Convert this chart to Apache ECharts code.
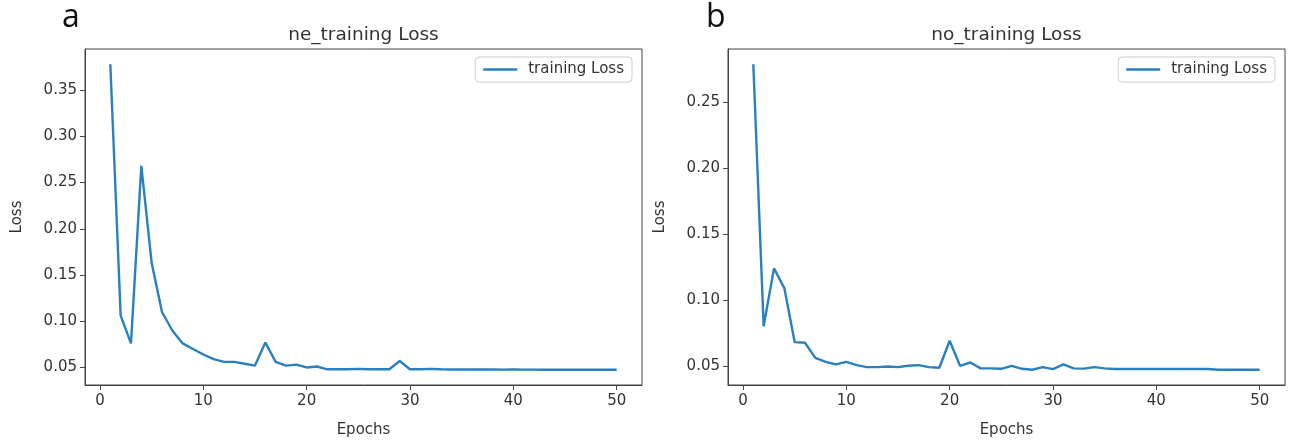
<!DOCTYPE html>
<html>
<head>
<meta charset="utf-8">
<script src="https://cdn.jsdelivr.net/npm/echarts@6/dist/echarts.min.js"></script>
<style>
html,body{margin:0;padding:0;background:#fff;}
#c{width:1291px;height:443px;}
</style>
</head>
<body>
<div id="c"></div>
<script>
const epochs = [1,2,3,4,5,6,7,8,9,10,11,12,13,14,15,16,17,18,19,20,21,22,23,24,25,26,27,28,29,30,31,32,33,34,35,36,37,38,39,40,41,42,43,44,45,46,47,48,49,50];
const neLoss = [0.378,0.106,0.076,0.268,0.163,0.110,0.090,0.076,0.070,0.064,
  0.059,0.056,0.056,0.054,0.052,0.077,0.056,0.052,0.053,0.050,
  0.051,0.048,0.048,0.048,0.0485,0.048,0.048,0.048,0.057,0.048,
  0.048,0.0485,0.048,0.0478,0.0478,0.0477,0.0477,0.0477,0.0476,0.0477,
  0.0476,0.0476,0.0475,0.0475,0.0475,0.0475,0.0475,0.0475,0.0475,0.0475];
const noLoss = [0.279,0.080,0.124,0.109,0.068,0.0675,0.056,0.053,0.051,0.053,
  0.0505,0.049,0.049,0.0495,0.049,0.050,0.0505,0.049,0.0485,0.069,
  0.050,0.0525,0.048,0.048,0.0477,0.050,0.0477,0.047,0.049,0.0475,
  0.051,0.048,0.0478,0.049,0.048,0.0475,0.0475,0.0475,0.0475,0.0475,
  0.0475,0.0475,0.0475,0.0475,0.0475,0.047,0.047,0.047,0.047,0.047];
const xTicks = [0,10,20,30,40,50];
const yTicksA = [0.05,0.10,0.15,0.20,0.25,0.30,0.35];
const yTicksB = [0.05,0.10,0.15,0.20,0.25];
const titleA = 'ne_training Loss';
const titleB = 'no_training Loss';
const seriesName = 'training Loss';

const FONT = 'DejaVu Sans';
const TXT = '#333';
const AX = '#444';
const BLUE = '#2a7fbf';

function xAxis(gi){
  return {
    type:'value', gridIndex:gi, min:-1.45, max:52.45,
    name:'Epochs', nameLocation:'middle', nameGap:38,
    nameTextStyle:{fontFamily:FONT,fontSize:15,color:TXT},
    axisLine:{show:true,onZero:false,lineStyle:{color:AX,width:1}},
    axisTick:{show:true,length:5,customValues:xTicks,lineStyle:{color:AX}},
    axisLabel:{customValues:xTicks,fontFamily:FONT,fontSize:15,color:TXT,margin:9},
    splitLine:{show:false}
  };
}
function yAxis(gi,lo,hi,ticks){
  return {
    type:'value', gridIndex:gi, min:lo, max:hi,
    name:'Loss', nameLocation:'middle', nameGap:60, nameRotate:90,
    nameTextStyle:{fontFamily:FONT,fontSize:15,color:TXT},
    axisLine:{show:true,onZero:false,lineStyle:{color:AX,width:1}},
    axisTick:{show:true,length:5,customValues:ticks,lineStyle:{color:AX}},
    axisLabel:{customValues:ticks,fontFamily:FONT,fontSize:15,color:TXT,margin:8,
      formatter:v=>v.toFixed(2)},
    splitLine:{show:false}
  };
}
function legend(right){
  return {
    data:[seriesName], right:right, top:57, orient:'vertical',
    icon:'rect', padding:[5,8], itemWidth:34, itemHeight:2.5,
    borderColor:'#ccc', borderWidth:1, borderRadius:4,
    backgroundColor:'#fff',
    textStyle:{fontFamily:FONT,fontSize:15,color:TXT,padding:[0,0,0,6]}
  };
}
const chart = echarts.init(document.getElementById('c'),null,{renderer:'canvas'});
chart.setOption({
  animation:false,
  backgroundColor:'#fff',
  title:[
    {text:titleA,left:363.5,top:26,textAlign:'center',padding:0,textStyle:{fontFamily:FONT,fontSize:18.5,fontWeight:'normal',color:TXT}},
    {text:titleB,left:1006.5,top:26,textAlign:'center',padding:0,textStyle:{fontFamily:FONT,fontSize:18.5,fontWeight:'normal',color:TXT}},
    {text:'a',left:62,top:2,padding:0,textStyle:{fontFamily:'Open Sans',fontSize:32,fontWeight:'normal',color:'#111'}},
    {text:'b',left:706,top:2,padding:0,textStyle:{fontFamily:'Open Sans',fontSize:32,fontWeight:'normal',color:'#111'}}
  ],
  grid:[
    {left:85,top:49,width:557,height:340,show:true,borderColor:AX,borderWidth:1,containLabel:false},
    {left:728,top:49,width:557,height:340,show:true,borderColor:AX,borderWidth:1,containLabel:false}
  ],
  xAxis:[xAxis(0),xAxis(1)],
  yAxis:[yAxis(0,0.031,0.3945,yTicksA),yAxis(1,0.0354,0.2906,yTicksB)],
  legend:[legend(1291-642+10),legend(1291-1285+10)],
  series:[
    {name:seriesName,type:'line',xAxisIndex:0,yAxisIndex:0,symbol:'none',
      data:epochs.map((e,i)=>[e,neLoss[i]]),lineStyle:{color:BLUE,width:2.4},itemStyle:{color:BLUE}},
    {name:seriesName,type:'line',xAxisIndex:1,yAxisIndex:1,symbol:'none',
      data:epochs.map((e,i)=>[e,noLoss[i]]),lineStyle:{color:BLUE,width:2.4},itemStyle:{color:BLUE}}
  ]
});
</script>
</body>
</html>
